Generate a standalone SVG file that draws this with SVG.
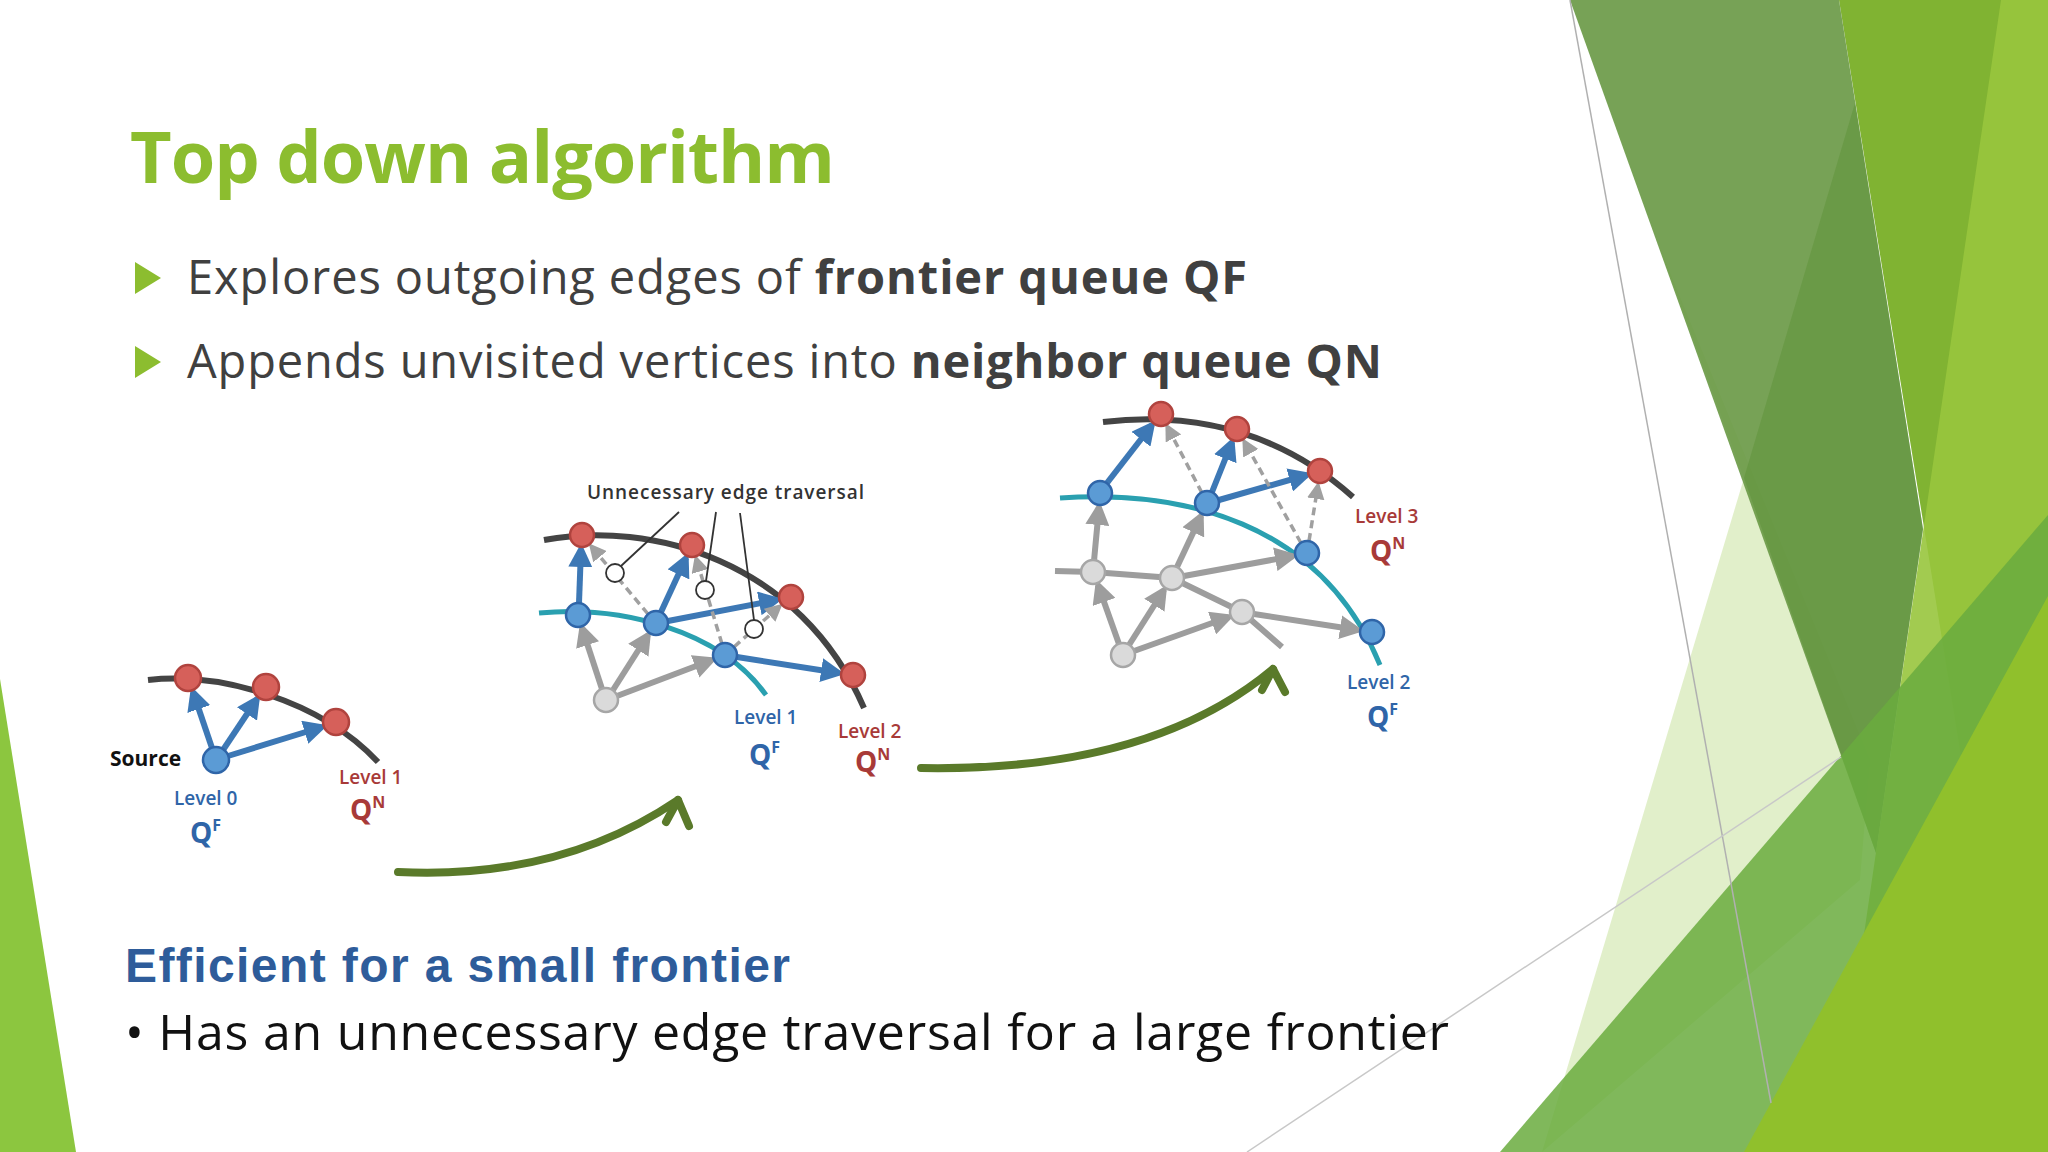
<svg xmlns="http://www.w3.org/2000/svg" width="2048" height="1152" viewBox="0 0 2048 1152">
<defs>
<style>
.t{font-family:"Open Sans","Liberation Sans",sans-serif}
.lab{font-family:"Open Sans","Liberation Sans",sans-serif;font-weight:600;font-size:19px}
.q{font-family:"Open Sans","Liberation Sans",sans-serif;font-weight:700;font-size:28px}
.red{fill:#a83a38}.blu{fill:#2f65a8}
.rn{fill:#d6605a;stroke:#b0433e;stroke-width:2.5}
.bn{fill:#5b9bd5;stroke:#2f65a8;stroke-width:2.5}
.gn{fill:#dadada;stroke:#a6a6a6;stroke-width:2.5}
.be{stroke:#3d78b5;stroke-width:6;fill:none;marker-end:url(#mb)}
.ge{stroke:#9d9d9d;stroke-width:6;fill:none;marker-end:url(#mg)}
.gl{stroke:#9d9d9d;stroke-width:6;fill:none}
.de{stroke:#a0a0a0;stroke-width:3.5;stroke-dasharray:8 5;fill:none;marker-end:url(#md)}
.ka{stroke:#444;stroke-width:6;fill:none}
.ta{stroke:#2aa0b0;stroke-width:5;fill:none}
.ga{stroke:#5a7a2a;stroke-width:8;fill:none;stroke-linecap:round;stroke-linejoin:round}
</style>
<marker id="mb" markerWidth="4" markerHeight="4" refX="3" refY="2" orient="auto"><path d="M0,0 L4,2 L0,4 Z" fill="#3d78b5"/></marker>
<marker id="mg" markerWidth="4" markerHeight="4" refX="3" refY="2" orient="auto"><path d="M0,0 L4,2 L0,4 Z" fill="#9d9d9d"/></marker>
<marker id="md" markerWidth="5" markerHeight="5" refX="4" refY="2.5" orient="auto"><path d="M0,0 L5,2.5 L0,5 Z" fill="#a0a0a0"/></marker>
</defs>
<rect width="2048" height="1152" fill="#ffffff"/>
<g id="decor">
<polygon points="0,679 0,1152 76,1152" fill="#8cc63f"/>
<polygon points="1658,243 1870,760 1860,880 1542,1152 1744,478" fill="#d7e9b8" opacity="0.75"/>
<polygon points="1839,0 2048,0 2048,700 1961,757" fill="#80b332"/>
<polygon points="1570,0 1839,0 1923,529 1876,853" fill="#6b9a48" opacity="0.92"/>
<polygon points="1855,103 1923,529 1876,853 1744,478" fill="#5a9035" opacity="0.45"/>
<polygon points="2001,0 2048,0 2048,1152 1828,1152 1864,934" fill="#98c53d" opacity="0.9"/>
<polygon points="1500,1152 2048,515 2048,1152" fill="#6aab3e" opacity="0.85"/>
<polygon points="1744,1152 2048,596 2048,1152" fill="#90c02c"/>
<line x1="1570" y1="0" x2="1771" y2="1103" stroke="#b0b0b0" stroke-width="1.5"/>
<line x1="1247" y1="1152" x2="1841" y2="757" stroke="#c8c8c8" stroke-width="1.5"/>
</g>
<g id="title"><text class="t" x="130" y="183" font-size="72" font-weight="700" fill="#8cbd2f" textLength="705">Top down algorithm</text></g>
<g id="bullets">
<polygon points="135,262 161,278 135,294" fill="#8cbd2f"/>
<polygon points="135,346 161,362 135,378" fill="#8cbd2f"/>
<text class="t" x="187" y="294" font-size="47" fill="#404040" textLength="1060">Explores outgoing edges of <tspan font-weight="700">frontier queue QF</tspan></text>
<text class="t" x="187" y="378" font-size="47" fill="#404040" textLength="1195">Appends unvisited vertices into <tspan font-weight="700">neighbor queue QN</tspan></text>
</g>
<g id="connectors">
<path class="ka" d="M148,680 C220,672 320,700 378,762"/>
<line class="be" x1="212" y1="748" x2="193" y2="692"/>
<line class="be" x1="223" y1="750" x2="257" y2="699"/>
<line class="be" x1="228" y1="756" x2="322" y2="727"/>
<path class="ka" d="M544,540 C650,520 800,560 864,708"/>
<path class="ta" d="M539,613 C620,605 720,630 766,695"/>
<line class="ge" x1="602" y1="689" x2="582" y2="628"/>
<line class="ge" x1="613" y1="690" x2="648" y2="635"/>
<line class="ge" x1="617" y1="696" x2="712" y2="660"/>
<line class="be" x1="579" y1="603" x2="581" y2="549"/>
<line class="be" x1="661" y1="612" x2="686" y2="558"/>
<line class="be" x1="668" y1="621" x2="777" y2="600"/>
<line class="be" x1="737" y1="657" x2="839" y2="673"/>
<line class="de" x1="648" y1="614" x2="591" y2="546"/>
<line class="de" x1="722" y1="644" x2="696" y2="558"/>
<line class="de" x1="734" y1="647" x2="780" y2="606"/>
<g stroke="#333" stroke-width="1.8" fill="none">
<line x1="679" y1="512" x2="621" y2="566"/>
<line x1="716" y1="512" x2="706" y2="581"/>
<line x1="740" y1="513" x2="754" y2="620"/>
<circle cx="615" cy="573" r="9" fill="#fff"/>
<circle cx="705" cy="590" r="9" fill="#fff"/>
<circle cx="754" cy="629" r="9" fill="#fff"/>
</g>
<path class="ka" d="M1103,422 Q1250,405 1353,497"/>
<path class="ta" d="M1060,498 C1180,490 1320,520 1380,665"/>
<polyline class="gl" points="1055,571 1093,572 1172,578 1242,612 1282,647"/>
<line class="ge" x1="1119" y1="644" x2="1098" y2="585"/>
<line class="ge" x1="1129" y1="645" x2="1164" y2="590"/>
<line class="ge" x1="1134" y1="651" x2="1229" y2="617"/>
<line class="ge" x1="1094" y1="561" x2="1099" y2="507"/>
<line class="ge" x1="1177" y1="567" x2="1201" y2="516"/>
<line class="ge" x1="1184" y1="576" x2="1293" y2="556"/>
<line class="ge" x1="1254" y1="614" x2="1358" y2="630"/>
<line class="be" x1="1107" y1="483" x2="1152" y2="425"/>
<line class="be" x1="1212" y1="492" x2="1232" y2="442"/>
<line class="be" x1="1219" y1="500" x2="1307" y2="475"/>
<line class="de" x1="1202" y1="493" x2="1167" y2="426"/>
<line class="de" x1="1301" y1="543" x2="1244" y2="441"/>
<line class="de" x1="1309" y1="541" x2="1318" y2="485"/>
<path class="ga" d="M398,872 Q560,880 678,800"/>
<polyline class="ga" points="666,822 678,800 689,826"/>
<path class="ga" d="M921,768 Q1150,772 1273,669"/>
<polyline class="ga" points="1262,690 1273,669 1285,692"/>
</g>
<g id="graph1">
<circle class="rn" cx="188" cy="678" r="13"/>
<circle class="rn" cx="266" cy="687" r="13"/>
<circle class="rn" cx="336" cy="722" r="13"/>
<circle class="bn" cx="216" cy="760" r="13"/>
<text class="t" x="110" y="766" font-size="21" font-weight="700" fill="#111">Source</text>
<text class="lab blu" x="174" y="805">Level 0</text>
<text class="q blu" x="190" y="843">Q<tspan font-size="16" dy="-12">F</tspan></text>
<text class="lab red" x="339" y="784">Level 1</text>
<text class="q red" x="350" y="820">Q<tspan font-size="16" dy="-12">N</tspan></text>
</g>
<g id="graph2">
<circle class="rn" cx="582" cy="535" r="12"/>
<circle class="rn" cx="692" cy="545" r="12"/>
<circle class="rn" cx="791" cy="597" r="12"/>
<circle class="rn" cx="853" cy="675" r="12"/>
<circle class="bn" cx="578" cy="615" r="12"/>
<circle class="bn" cx="656" cy="623" r="12"/>
<circle class="bn" cx="725" cy="655" r="12"/>
<circle class="gn" cx="606" cy="700" r="12"/>
<text class="t" x="587" y="499" font-size="19" font-weight="600" fill="#333" textLength="277">Unnecessary edge traversal</text>
<text class="lab blu" x="734" y="724">Level 1</text>
<text class="q blu" x="749" y="765">Q<tspan font-size="16" dy="-12">F</tspan></text>
<text class="lab red" x="838" y="738">Level 2</text>
<text class="q red" x="855" y="772">Q<tspan font-size="16" dy="-12">N</tspan></text>
</g>
<g id="graph3">
<circle class="rn" cx="1161" cy="414" r="12"/>
<circle class="rn" cx="1237" cy="429" r="12"/>
<circle class="rn" cx="1320" cy="471" r="12"/>
<circle class="bn" cx="1100" cy="493" r="12"/>
<circle class="bn" cx="1207" cy="503" r="12"/>
<circle class="bn" cx="1307" cy="553" r="12"/>
<circle class="bn" cx="1372" cy="632" r="12"/>
<circle class="gn" cx="1093" cy="572" r="12"/>
<circle class="gn" cx="1172" cy="578" r="12"/>
<circle class="gn" cx="1242" cy="612" r="12"/>
<circle class="gn" cx="1123" cy="655" r="12"/>
<text class="lab red" x="1355" y="523">Level 3</text>
<text class="q red" x="1370" y="561">Q<tspan font-size="16" dy="-12">N</tspan></text>
<text class="lab blu" x="1347" y="689">Level 2</text>
<text class="q blu" x="1367" y="727">Q<tspan font-size="16" dy="-12">F</tspan></text>
</g>
<g id="notes">
<text x="125" y="982" font-family="Liberation Sans, Arial, sans-serif" font-size="48" font-weight="700" fill="#2e5c9a" textLength="665">Efficient for a small frontier</text>
<text class="t" x="125" y="1050" font-size="50" fill="#111" textLength="1324">• Has an unnecessary edge traversal for a large frontier</text>
</g>
</svg>
